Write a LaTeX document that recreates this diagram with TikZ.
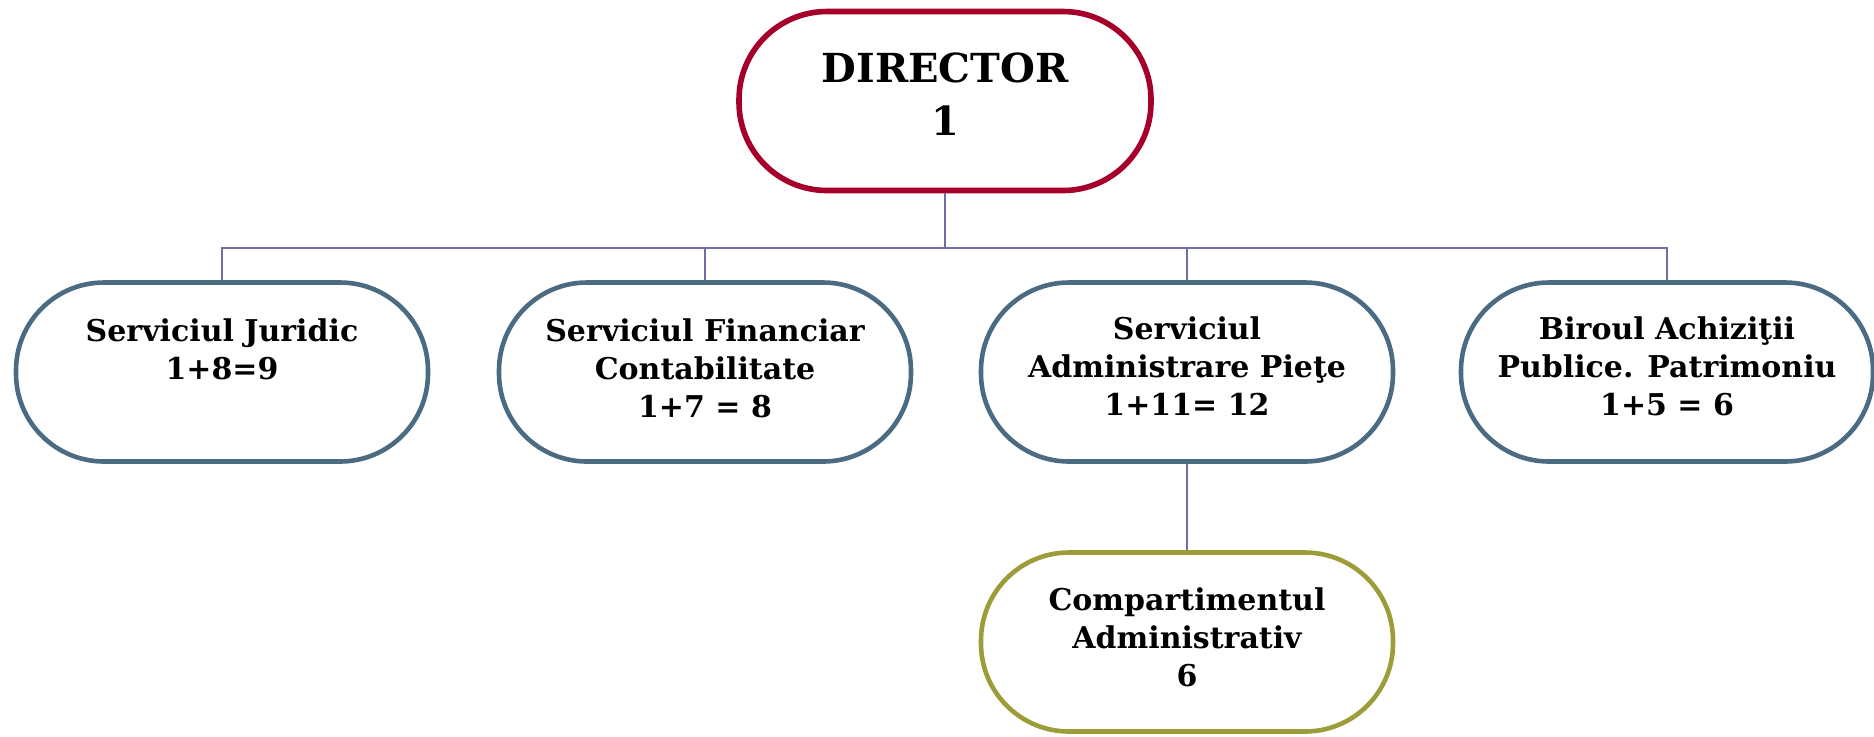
\documentclass[tikz,border=0pt]{standalone}
\usepackage{fontspec}
\setmainfont{DejaVu Serif}
\definecolor{dirred}{HTML}{A6002A}
\definecolor{srvblue}{HTML}{4A6B82}
\definecolor{cptolive}{HTML}{9C9C38}
\definecolor{linkline}{HTML}{6E6EA8}
\tikzset{
  unit/.style = {draw, line width = 2.3pt, fill = white, rectangle, rounded corners = 44pt,
                 minimum width = 206pt, minimum height = 89.5pt},
  unittext/.style = {align = center, font = \bfseries\fontsize{15}{19}\selectfont},
  link/.style = {draw = linkline, line width = 0.7pt}
}
\begin{document}
\begin{tikzpicture}[x = 0.5pt, y = -0.5pt]
        \useasboundingbox (0,0) rectangle (1874,736);
        % boxes
        \node[unit, draw = dirred, line width = 2.8pt] (dir) at (945,101) {};
        \node[unit, draw = srvblue] (jur) at (222,372) {};
        \node[unit, draw = srvblue] (fin) at (705,372) {};
        \node[unit, draw = srvblue] (adm) at (1187,372) {};
        \node[unit, draw = srvblue] (bir) at (1667,372) {};
        \node[unit, draw = cptolive] (cpt) at (1187,642) {};
        % texts
        \node[unittext, font = \bfseries\fontsize{20}{26.5}\selectfont] (dirt) at (945,94) {DIRECTOR\\1};
        \node[unittext] (jurt) at (222,349) {Serviciul Juridic\\1+8=9};
        \node[unittext] (fint) at (705,368) {Serviciul Financiar\\Contabilitate\\1+7 = 8};
        \node[unittext] (admt) at (1187,366) {Serviciul\\Administrare Pieţe\\1+11= 12};
        \node[unittext] (birt) at (1667,366) {Biroul Achiziţii\\Publice. Patrimoniu\\1+5 = 6};
        \node[unittext] (cptt) at (1187,637) {Compartimentul\\Administrativ\\6};
        % links
        \coordinate (bus) at (945,248);
        \draw[link] (dir.south) -- (bus);
        \foreach \u in {jur, fin, adm, bir}
            \draw[link] (bus) -| (\u.north);
        \draw[link] (adm.south) -- (cpt.north);
\end{tikzpicture}
\end{document}
